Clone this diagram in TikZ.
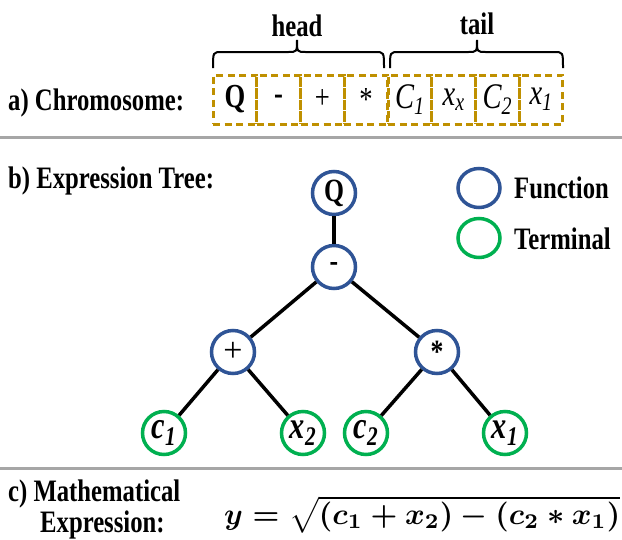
\documentclass[tikz,border=0pt]{standalone}
\usepackage{fontspec}
\usepackage{graphicx}
\setmainfont{Liberation Serif}
\definecolor{fblue}{HTML}{2F5496}
\definecolor{tgreen}{HTML}{00B050}
\definecolor{gold}{HTML}{BF9000}
\definecolor{sepgray}{HTML}{A6A6A6}
\newcommand\vst[1]{\scalebox{0.95}[1.2]{#1}}
\tikzset{
  lbl/.style={font=\fontsize{26}{30}\selectfont\bfseries, inner sep=0pt},
  gene/.style={draw=gold, line width=3pt, dash pattern=on 7pt off 4.5pt, minimum width=43.75pt, minimum height=49pt, inner sep=0pt, font=\fontsize{28}{30}\selectfont},
  geneit/.style={gene, font=\fontsize{30}{32}\selectfont\itshape},
  fnode/.style={circle, draw=fblue, line width=3.5pt, minimum size=43pt, inner sep=0pt, font=\fontsize{27}{30}\selectfont\bfseries, fill=white},
  tnode/.style={circle, draw=tgreen, line width=3.5pt, minimum size=43pt, inner sep=0pt, font=\fontsize{32}{34}\selectfont\bfseries\itshape, fill=white},
  legc/.style={ellipse, draw=#1, line width=3.5pt, minimum width=42pt, minimum height=39pt, inner sep=0pt},
  edge/.style={line width=3.5pt, black},
  sep/.style={line width=3pt, sepgray},
  bracepath/.style={line width=2pt, black},
}
\usetikzlibrary{shapes.geometric}
\begin{document}
\begin{tikzpicture}[x=1pt,y=-1pt]
\useasboundingbox (0,0) rectangle (622,539);
% separators
\coordinate (s1a) at (0,137); \coordinate (s1b) at (622,137);
\coordinate (s2a) at (0,468); \coordinate (s2b) at (622,468);
\draw[sep] (s1a) -- (s1b);
\draw[sep] (s2a) -- (s2b);
% a) chromosome
\node[lbl, anchor=west] (la) at (8,103) {\vst{a) Chromosome:}};
\node[gene] (g1) at (234.9,99.5) {\vst{\textbf{Q}}};
\node[gene] (g2) at (278.6,99.5) {\vst{\textbf{-}}};
\node[gene] (g3) at (322.4,99.5) {\vst{+}};
\node[gene] (g4) at (366.1,99.5) {\vst{*}};
\node[geneit] (g5) at (409.9,99.5) {\vst{C\textsubscript{1}}};
\node[geneit] (g6) at (453.6,99.5) {\vst{x\textsubscript{x}}};
\node[geneit] (g7) at (497.4,99.5) {\vst{C\textsubscript{2}}};
\node[geneit] (g8) at (541.1,99.5) {\vst{x\textsubscript{1}}};
% braces
\draw[bracepath] (213,68) .. controls (213,52) .. (222,52) -- (288,52) .. controls (297,52) .. (297,40) .. controls (297,52) .. (306,52) -- (375,52) .. controls (384,52) .. (384,68);
\draw[bracepath] (390,68) .. controls (390,52) .. (399,52) -- (468,52) .. controls (477,52) .. (477,40) .. controls (477,52) .. (486,52) -- (554,52) .. controls (563,52) .. (563,68);
\node[lbl] (head) at (297,26) {\vst{head}};
\node[lbl] (tail) at (477,24) {\vst{tail}};
% b) tree
\node[lbl, anchor=west] (lb) at (8,181) {\vst{b) Expression Tree:}};
\node[fnode] (nQ) at (334,193) {\vst{Q}};
\node[fnode] (nm) at (334,267) {\vst{-}};
\node[fnode, font=\fontsize{34}{36}\selectfont] (np) at (233,352) {+};
\node[fnode] (ns) at (437,352) {\vst{*}};
\node[tnode] (c1) at (164,433) {\vst{c\textsubscript{1}}};
\node[tnode] (x2) at (303,433) {\vst{x\textsubscript{2}}};
\node[tnode] (c2) at (366,433) {\vst{c\textsubscript{2}}};
\node[tnode] (x1) at (505,433) {\vst{x\textsubscript{1}}};
\draw[edge] (nQ) -- (nm);
\draw[edge] (nm) -- (np);
\draw[edge] (nm) -- (ns);
\draw[edge] (np) -- (c1);
\draw[edge] (np) -- (x2);
\draw[edge] (ns) -- (c2);
\draw[edge] (ns) -- (x1);
% legend
\node[legc=fblue] (lf) at (479,188) {};
\node[legc=tgreen] (lt) at (479,238) {};
\node[lbl, anchor=west] (lft) at (514,188) {\vst{Function}};
\node[lbl, anchor=west] (ltt) at (514,239) {\vst{Terminal}};
% c) expression
\node[lbl, anchor=west] (lc1) at (8,494) {\vst{c) Mathematical}};
\node[lbl, anchor=west] (lc2) at (40,525) {\vst{Expression:}};
\node[inner sep=0pt, anchor=north west] (mexp) at (224,496) {\resizebox{396pt}{!}{\boldmath$y=\sqrt{(c_1+x_2)-(c_2*x_1)}$}};
\end{tikzpicture}
\end{document}
